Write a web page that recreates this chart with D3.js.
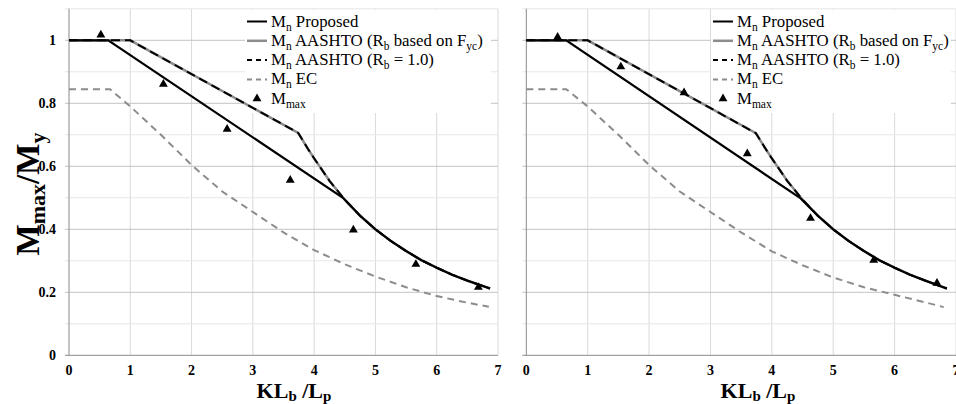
<!DOCTYPE html>
<html>
<head>
<meta charset="utf-8">
<script src="https://cdn.jsdelivr.net/npm/d3@7"></script>
<style>
  body { margin: 0; background: #fff; }
  text { font-family: "Liberation Serif", "Times New Roman", serif; }
</style>
</head>
<body>
<div id="chart"></div>
<script>
// tick values
const xTicks = [0, 1, 2, 3, 4, 5, 6, 7];
const yTicks = [0, 0.2, 0.4, 0.6, 0.8, 1];
const yMinor = [0.1, 0.3, 0.5, 0.7, 0.9, 1.1];

// left panel series [KLb/Lp, Mmax/My]
const proposedL = [[0, 1], [0.64, 1], [4.47, 0.5], [4.75, 0.443], [5, 0.4], [5.25, 0.363], [5.5, 0.331],
  [5.75, 0.302], [6, 0.278], [6.25, 0.256], [6.5, 0.237], [6.87, 0.212]];
const aashtoL = [[0, 1], [1.0, 1], [3.74, 0.706], [3.9, 0.655], [4, 0.625], [4.25, 0.554], [4.5, 0.494],
  [4.75, 0.443], [5, 0.4], [5.25, 0.363], [5.5, 0.331], [5.75, 0.302], [6, 0.278], [6.25, 0.256],
  [6.5, 0.237], [6.87, 0.212]];
const ecL = [[0, 0.845], [0.67, 0.845], [1, 0.79], [1.5, 0.70], [2, 0.604], [2.5, 0.52], [3, 0.455],
  [3.5, 0.39], [4, 0.334], [4.5, 0.289], [5, 0.25], [5.5, 0.216], [6, 0.188], [6.5, 0.167], [6.85, 0.154]];
const mmaxL = [[0.52, 1.017], [1.54, 0.861], [2.58, 0.718], [3.61, 0.556], [4.64, 0.398], [5.66, 0.289], [6.68, 0.216]];

// right panel series
const proposedR = [[0, 1], [0.65, 1], [4.47, 0.498], [4.75, 0.443], [5, 0.4], [5.25, 0.363], [5.5, 0.331],
  [5.75, 0.302], [6, 0.278], [6.25, 0.256], [6.5, 0.237], [6.85, 0.212]];
const aashtoR = [[0, 1], [1.0, 1], [3.74, 0.705], [3.9, 0.655], [4, 0.625], [4.25, 0.554], [4.5, 0.494],
  [4.75, 0.443], [5, 0.4], [5.25, 0.363], [5.5, 0.331], [5.75, 0.302], [6, 0.278], [6.25, 0.256],
  [6.5, 0.237], [6.85, 0.212]];
const ecR = [[0, 0.845], [0.65, 0.845], [1, 0.79], [1.5, 0.70], [2, 0.604], [2.5, 0.52], [3, 0.455],
  [3.5, 0.39], [4, 0.33], [4.5, 0.286], [5, 0.247], [5.5, 0.216], [6, 0.192], [6.5, 0.168], [6.8, 0.153]];
const mmaxR = [[0.51, 1.01], [1.54, 0.916], [2.57, 0.834], [3.60, 0.64], [4.63, 0.435], [5.66, 0.302], [6.69, 0.229]];

const legendItems = [
  {key: "prop", main: "M", sub: "n", rest: " Proposed"},
  {key: "aashto", main: "M", sub: "n", rest: " AASHTO (R", sub2: "b", rest2: " based on F", sub3: "yc", rest3: ")"},
  {key: "aashto1", main: "M", sub: "n", rest: " AASHTO (R", sub2: "b", rest2: " = 1.0)"},
  {key: "ec", main: "M", sub: "n", rest: " EC"},
  {key: "mmax", main: "M", sub: "max", rest: ""}
];

const W = 956, H = 404;
const svg = d3.select("#chart").append("svg")
  .attr("width", W).attr("height", H);

function drawPanel(opt) {
  const x = d3.scaleLinear().domain([0, 7]).range([opt.x0, opt.x1]);
  const y = d3.scaleLinear().domain([0, 1.1]).range([355.3, 8.8]);
  const g = svg.append("g");

  // gridlines
  g.selectAll(".vg").data(xTicks.slice(1)).enter().append("line")
    .attr("x1", d => x(d)).attr("x2", d => x(d))
    .attr("y1", y(1.1)).attr("y2", y(0))
    .attr("stroke", "#dadada").attr("stroke-width", 1);
  g.selectAll(".mg").data(yMinor).enter().append("line")
    .attr("x1", x(0) - 4).attr("x2", x(7))
    .attr("y1", d => y(d)).attr("y2", d => y(d))
    .attr("stroke", "#e6e6e6").attr("stroke-width", 1);
  g.selectAll(".hg").data(yTicks.slice(1)).enter().append("line")
    .attr("x1", x(0) - 4).attr("x2", x(7))
    .attr("y1", d => y(d)).attr("y2", d => y(d))
    .attr("stroke", "#c4c4c4").attr("stroke-width", 1);

  // legend background
  g.append("rect")
    .attr("x", opt.lx - 2).attr("y", 10)
    .attr("width", opt.lw).attr("height", 103)
    .attr("fill", "#fff");

  // axes lines
  g.append("line").attr("x1", x(0)).attr("x2", x(0)).attr("y1", y(1.1)).attr("y2", y(0))
    .attr("stroke", "#8a8a8a");
  g.append("line").attr("x1", x(0) - 4).attr("x2", x(7)).attr("y1", y(0)).attr("y2", y(0))
    .attr("stroke", "#8a8a8a");

  // tick labels
  g.selectAll(".xt").data(xTicks).enter().append("text")
    .attr("x", d => x(d)).attr("y", 375)
    .attr("text-anchor", "middle")
    .attr("font-size", 14).attr("font-weight", "bold")
    .text(d => d);
  if (opt.yLabels) {
    g.selectAll(".yt").data(yTicks).enter().append("text")
      .attr("x", 56).attr("y", d => y(d) + 5)
      .attr("text-anchor", "end")
      .attr("font-size", 14).attr("font-weight", "bold")
      .text(d => d);
  }

  const line = d3.line().x(d => x(d[0])).y(d => y(d[1]));

  g.append("path").datum(opt.ec).attr("d", line)
    .attr("fill", "none").attr("stroke", "#8c8c8c").attr("stroke-width", 2)
    .attr("stroke-dasharray", "7,5");
  g.append("path").datum(opt.aashto).attr("d", line)
    .attr("fill", "none").attr("stroke", "#8c8c8c").attr("stroke-width", 2.5);
  g.append("path").datum(opt.aashto).attr("d", line)
    .attr("fill", "none").attr("stroke", "#000").attr("stroke-width", 2)
    .attr("stroke-dasharray", "9,5");
  g.append("path").datum(opt.prop).attr("d", line)
    .attr("fill", "none").attr("stroke", "#000").attr("stroke-width", 2.2);

  const tri = d3.symbol().type(d3.symbolTriangle).size(34);
  g.selectAll(".mm").data(opt.mmax).enter().append("path")
    .attr("d", tri)
    .attr("transform", d => `translate(${x(d[0])},${y(d[1])})`)
    .attr("fill", "#000");

  // x title
  const xt = g.append("text")
    .attr("x", opt.titleX).attr("y", 398)
    .attr("text-anchor", "middle")
    .attr("font-size", 22).attr("font-weight", "bold");
  xt.append("tspan").text("KL");
  xt.append("tspan").attr("font-size", 15).attr("dy", 3).text("b");
  xt.append("tspan").attr("dy", -3).text(" /L");
  xt.append("tspan").attr("font-size", 15).attr("dy", 3).text("p");

  // legend
  const rowsY = [21.5, 40.8, 60.1, 79.4, 98.7];
  legendItems.forEach((it, i) => {
    const ly = rowsY[i];
    const x1 = opt.lx, x2 = opt.lx + 20;
    if (it.key === "prop") {
      g.append("line").attr("x1", x1).attr("x2", x2).attr("y1", ly).attr("y2", ly)
        .attr("stroke", "#000").attr("stroke-width", 2);
    } else if (it.key === "aashto") {
      g.append("line").attr("x1", x1).attr("x2", x2).attr("y1", ly).attr("y2", ly)
        .attr("stroke", "#8c8c8c").attr("stroke-width", 2.5);
    } else if (it.key === "aashto1") {
      g.append("line").attr("x1", x1).attr("x2", x2).attr("y1", ly).attr("y2", ly)
        .attr("stroke", "#000").attr("stroke-width", 2).attr("stroke-dasharray", "5,4");
    } else if (it.key === "ec") {
      g.append("line").attr("x1", x1).attr("x2", x2).attr("y1", ly).attr("y2", ly)
        .attr("stroke", "#8c8c8c").attr("stroke-width", 2).attr("stroke-dasharray", "5,4");
    } else {
      g.append("path").attr("d", tri)
        .attr("transform", `translate(${(x1 + x2) / 2},${ly})`).attr("fill", "#000");
    }
    const t = g.append("text").attr("x", opt.lx + 24).attr("y", ly + 5).attr("font-size", 16.8);
    t.append("tspan").text(it.main);
    t.append("tspan").attr("font-size", 11.5).attr("dy", 4).text(it.sub);
    t.append("tspan").attr("dy", -4).text(it.rest);
    if (it.sub2) {
      t.append("tspan").attr("font-size", 11.5).attr("dy", 4).text(it.sub2);
      t.append("tspan").attr("dy", -4).text(it.rest2);
    }
    if (it.sub3) {
      t.append("tspan").attr("font-size", 11.5).attr("dy", 4).text(it.sub3);
      t.append("tspan").attr("dy", -4).text(it.rest3);
    }
  });
}

drawPanel({x0: 69, x1: 498, yLabels: true, prop: proposedL, aashto: aashtoL, ec: ecL, mmax: mmaxL,
  titleX: 294, lx: 247, lw: 246});
drawPanel({x0: 526.3, x1: 956, yLabels: false, prop: proposedR, aashto: aashtoR, ec: ecR, mmax: mmaxR,
  titleX: 758, lx: 713, lw: 240});

// y title
const yt = svg.append("text")
  .attr("transform", "translate(39,194) rotate(-90)")
  .attr("text-anchor", "middle")
  .attr("font-size", 33).attr("font-weight", "bold");
yt.append("tspan").text("M");
yt.append("tspan").attr("font-size", 22).attr("dy", 6).text("max");
yt.append("tspan").attr("dy", -6).text("/M");
yt.append("tspan").attr("font-size", 22).attr("dy", 6).text("y");
</script>
</body>
</html>
